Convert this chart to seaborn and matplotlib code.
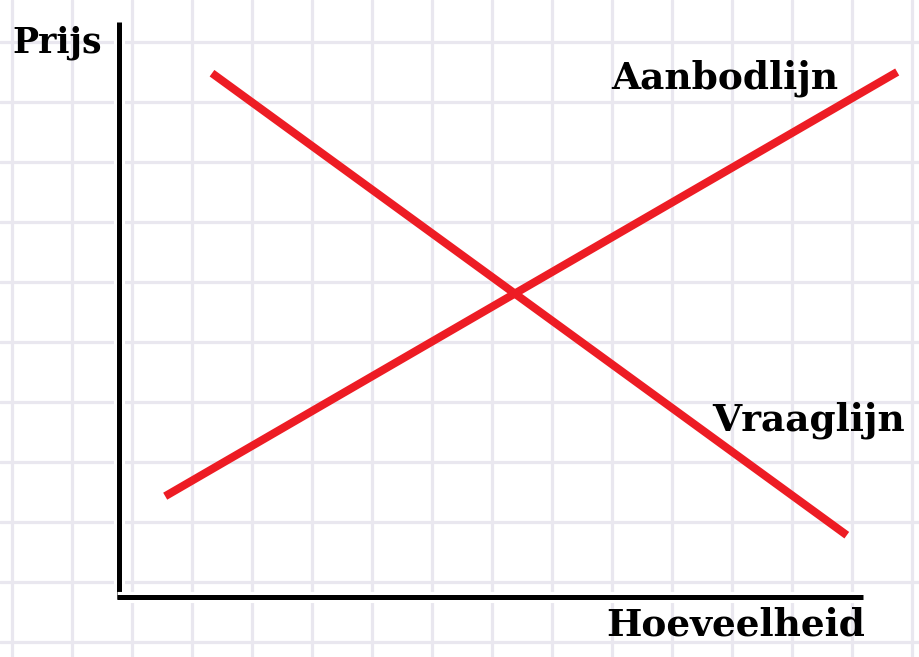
import numpy as np
import pandas as pd
import seaborn as sns
import matplotlib.pyplot as plt
import matplotlib.patheffects as pe

# data in grid units (one grid cell = one unit), origin at the axis corner
hoeveelheid_aanbod = [0.77, 12.97]
prijs_aanbod = [1.68, 8.75]
hoeveelheid_vraag = [1.55, 12.13]
prijs_vraag = [8.73, 1.03]
labels = {'Aanbodlijn': (10.1, 8.65), 'Vraaglijn': (11.5, 2.95)}

sns.set_theme(style='white')
plt.rcParams['font.family'] = ['DejaVu Serif']

df = pd.concat([
    pd.DataFrame({'q': hoeveelheid_aanbod, 'p': prijs_aanbod, 'lijn': 'Aanbodlijn'}),
    pd.DataFrame({'q': hoeveelheid_vraag, 'p': prijs_vraag, 'lijn': 'Vraaglijn'}),
])

fig = plt.figure(figsize=(9.2, 6.57), dpi=100)
ax = fig.add_axes([0, 0, 1, 1])
ax.set_xlim(-119 / 60, (920 - 119) / 60)
ax.set_ylim((597 - 657) / 60, 597 / 60)

# graph paper background
ax.set_xticks(np.arange(-1.783, 13.4, 1.0))
ax.set_yticks(np.arange(-0.75, 10.0, 1.0))
ax.grid(True, color='#e9e7ef', linewidth=2.3)
ax.tick_params(length=0, labelbottom=False, labelleft=False)
for s in ax.spines.values():
    s.set_visible(False)
ax.set_axisbelow(True)

# axes with white halo
halo = [pe.withStroke(linewidth=8, foreground='white')]
ax.plot([0, 0], [9.58, -0.04], color='black', lw=3.6, solid_capstyle='butt',
        path_effects=halo, zorder=3)
ax.plot([-0.04, 12.4], [0, 0], color='black', lw=3.6, solid_capstyle='butt',
        path_effects=halo, zorder=3)

sns.lineplot(data=df, x='q', y='p', hue='lijn', units='lijn', estimator=None,
             palette=['#ed1c24', '#ed1c24'], linewidth=5.8, legend=False,
             sort=False, ax=ax, zorder=4)
for line in ax.lines[-2:]:
    line.set_solid_capstyle('butt')
ax.set_xlabel('')
ax.set_ylabel('')

tekst = dict(fontsize=27, fontweight='bold', color='black', zorder=5)
ax.text(-1.03, 9.23, 'Prijs', ha='center', va='center', fontsize=25,
        fontweight='bold', color='black', zorder=5)
ax.text(10.27, -0.47, 'Hoeveelheid', ha='center', va='center', **tekst)
for naam, (x, y) in labels.items():
    ax.text(x, y, naam, ha='center', va='center', **tekst)

fig.savefig('out.png', dpi=100)
